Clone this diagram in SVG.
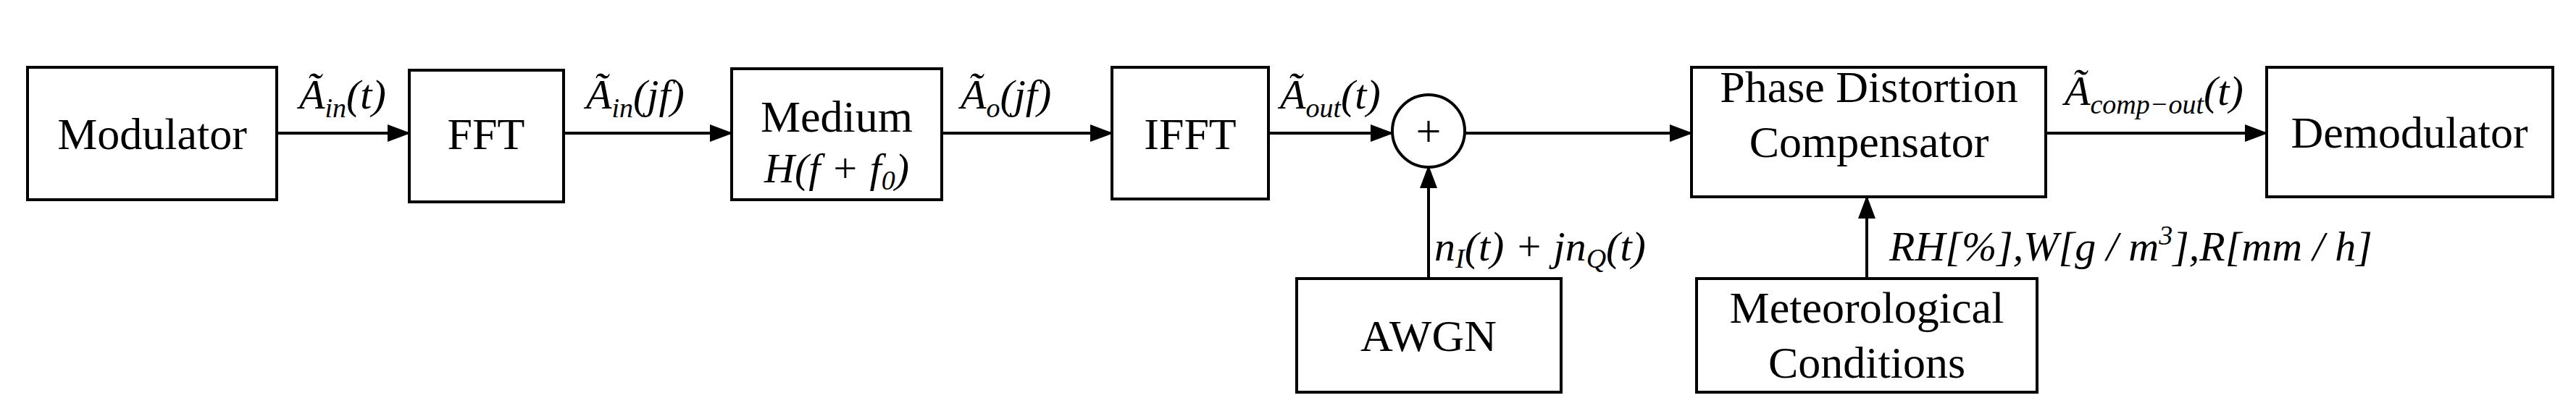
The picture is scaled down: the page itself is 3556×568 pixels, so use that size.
<svg xmlns="http://www.w3.org/2000/svg" width="3556" height="568" viewBox="0 0 3556 568">
<style>
.b{fill:#fff;stroke:#000;stroke-width:4}
.t{font-family:"Liberation Serif",serif;font-size:62px;text-anchor:middle;fill:#000}
.m{font-family:"Liberation Serif",serif;font-size:58px;font-style:italic;fill:#000}
.s{font-size:38px}
.c{stroke:#000;stroke-width:4;fill:none}
</style>
<defs><marker id="a" markerWidth="8" markerHeight="8" refX="7" refY="4" orient="auto" markerUnits="strokeWidth"><path d="M0,1 L8,4 L0,7 Z" fill="#000"/></marker></defs>
<rect width="3556" height="568" fill="#fff"/>
<g id="connectors">
<line class="c" x1="382" y1="184" x2="563" y2="184" marker-end="url(#a)"/>
<line class="c" x1="778" y1="184" x2="1008" y2="184" marker-end="url(#a)"/>
<line class="c" x1="1300" y1="184" x2="1533" y2="184" marker-end="url(#a)"/>
<line class="c" x1="1751" y1="184" x2="1920" y2="184" marker-end="url(#a)"/>
<line class="c" x1="2022" y1="184" x2="2333" y2="184" marker-end="url(#a)"/>
<line class="c" x1="2824" y1="184" x2="3127" y2="184" marker-end="url(#a)"/>
<line class="c" x1="1972" y1="385" x2="1972" y2="232" marker-end="url(#a)"/>
<line class="c" x1="2577" y1="385" x2="2577" y2="274" marker-end="url(#a)"/>
</g>
<g id="modulator"><rect class="b" x="38" y="93" width="344" height="183"/><text class="t" x="210" y="206">Modulator</text></g>
<g id="fft"><rect class="b" x="565" y="97" width="213" height="182"/><text class="t" x="671" y="206">FFT</text></g>
<g id="medium"><rect class="b" x="1010" y="95" width="290" height="181"/><text class="t" x="1155" y="182">Medium</text><text class="m" x="1155" y="252" text-anchor="middle">H(f + f<tspan class="s" dy="10">0</tspan><tspan dy="-10">)</tspan></text></g>
<g id="ifft"><rect class="b" x="1535" y="93" width="216" height="182"/><text class="t" x="1643" y="206">IFFT</text></g>
<g id="sum"><circle class="b" cx="1972" cy="181" r="50"/><text class="t" x="1972" y="202">+</text></g>
<g id="pdc"><rect class="b" x="2335" y="93" width="489" height="179"/><text class="t" x="2580" y="141">Phase Distortion</text><text class="t" x="2580" y="217">Compensator</text></g>
<g id="demodulator"><rect class="b" x="3129" y="93" width="395" height="179"/><text class="t" x="3326" y="204">Demodulator</text></g>
<g id="awgn"><rect class="b" x="1790" y="385" width="365" height="157"/><text class="t" x="1972" y="485">AWGN</text></g>
<g id="meteo"><rect class="b" x="2342" y="385" width="470" height="157"/><text class="t" x="2577" y="446">Meteorological</text><text class="t" x="2577" y="522">Conditions</text></g>
<g id="labels">
<text class="m" x="413" y="150">Ã<tspan class="s" dy="12">in</tspan><tspan dy="-12">(t)</tspan></text>
<text class="m" x="809" y="150">Ã<tspan class="s" dy="12">in</tspan><tspan dy="-12">(jf)</tspan></text>
<text class="m" x="1326" y="150">Ã<tspan class="s" dy="12">o</tspan><tspan dy="-12">(jf)</tspan></text>
<text class="m" x="1767" y="150">Ã<tspan class="s" dy="12">out</tspan><tspan dy="-12">(t)</tspan></text>
<text class="m" x="2850" y="145">Ã<tspan class="s" dy="12">comp−out</tspan><tspan dy="-12">(t)</tspan></text>
<text class="m" x="1980" y="360">n<tspan class="s" dy="10">I</tspan><tspan dy="-10">(t) + jn</tspan><tspan class="s" dy="10">Q</tspan><tspan dy="-10">(t)</tspan></text>
<text class="m" x="2608" y="360">RH[%],W[g / m<tspan class="s" dy="-22">3</tspan><tspan dy="22">],R[mm / h]</tspan></text>
</g>
</svg>
